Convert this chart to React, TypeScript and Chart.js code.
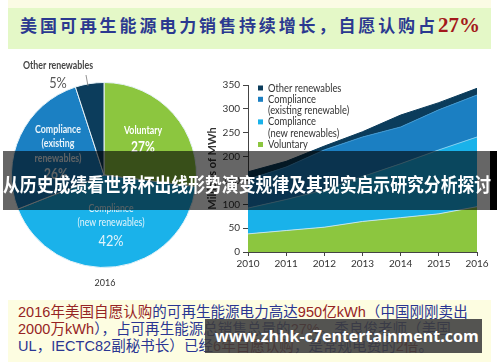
import React, { useEffect, useRef } from "react";
import { Chart, registerables } from "chart.js";
Chart.register(...registerables);

// ---- Pie data (share of 2016 renewable sales)
const pieCategories = ["Voluntary", "Compliance (new renewables)", "Compliance (existing renewables)", "Other renewables"];
const pieShares = [27, 42, 26, 5];
const pieColors = ["#8cc63f", "#1ab2ea", "#1b80c3", "#0c3d5c"];

// ---- Stacked area data (millions of MWh)
const years = ["2010", "2011", "2012", "2013", "2014", "2015", "2016"];
const voluntary = [38, 45, 52, 64, 72, 80, 95];
const complianceNew = [54, 65, 78, 94, 113, 134, 146];
const complianceExisting = [60, 68, 84, 83, 77, 84, 88];
const otherRenewables = [16, 12, 8, 11, 25, 15, 14];
const yMin = 0;
const yMax = 350;
const yStep = 50;
const seriesNames = ["Voluntary", "Compliance (new renewables)", "Compliance (existing renewable)", "Other renewables"];
const legendLines = [["Other renewables"], ["Compliance", "(existing renewable)"], ["Compliance", "(new renewables)"], ["Voluntary"]];
const areaColors = ["#8cc63f", "#19b2ea", "#1b7fc2", "#0b3c5b"];
const areaBorders = ["#bfe4f0", "#7fcdef", "#3f97d0", "#0b3c5b"];

const titleMain = "美国可再生能源电力销售持续增长，自愿认购占";
const titlePct = "27%";
const bannerText = "从历史成绩看世界杯出线形势演变规律及其现实启示研究分析探讨";
const watermark = "www.zhhk-c7entertainment.com";

const MAROON = "#962424";
const NAVY = "#2a3592";
const noteLines: [string, string][][] = [
  [[MAROON, "2016年美国自愿认购"], [NAVY, "的可再生能源电力高达"], [MAROON, "950亿kWh"], [NAVY, "（中国刚刚卖出"]],
  [[MAROON, "2000万kWh"], [NAVY, "），占可再生能源总销售总量的"], [MAROON, "27%"], [NAVY, "。季良俊老师（美国"]],
  [[NAVY, "UL，IECTC82副秘书长）已经"], [MAROON, "6年自愿认购"], [NAVY, "，是常规电费的"], [MAROON, "2倍"], [NAVY, "。"]],
];

function drawText(ctx: CanvasRenderingContext2D, s: string, x: number, y: number, font: string, color: string, sx = 1, align: CanvasTextAlign = "center") {
  ctx.save();
  ctx.font = font;
  ctx.fillStyle = color;
  ctx.textBaseline = "middle";
  ctx.textAlign = align;
  ctx.translate(x, y);
  ctx.scale(sx, 1);
  ctx.fillText(s, 0, 0);
  ctx.restore();
}

const PIE_LEFT = 0;
const PIE_TOP = 50;
const AREA_LEFT = 200;
const AREA_TOP = 60;

export default function App() {
  const pieRef = useRef<HTMLCanvasElement>(null);
  const areaRef = useRef<HTMLCanvasElement>(null);

  useEffect(() => {
    const pieLabelPlugin = {
      id: "pieLabels",
      afterDraw(chart: any) {
        const ctx = chart.ctx as CanvasRenderingContext2D;
        const p = (x: number, y: number) => [x - PIE_LEFT, y - PIE_TOP];
        const B = 'bold 11px Lato, "Noto Sans"';
        const R = '11px Lato, "Noto Sans"';
        const P = 'bold 15px Lato, "Noto Sans"';
        let [x, y] = p(58, 65);
        drawText(ctx, "Other renewables", x, y, B, "#454545", 0.8);
        [x, y] = p(58, 83);
        drawText(ctx, "5%", x, y, '15px Lato, "Noto Sans"', "#555", 0.85);
        ctx.save();
        ctx.strokeStyle = "#777";
        ctx.lineWidth = 0.8;
        ctx.beginPath();
        let [a, b] = p(86, 75);
        ctx.moveTo(a, b);
        [a, b] = p(88, 86);
        ctx.lineTo(a, b);
        ctx.stroke();
        ctx.restore();
        [x, y] = p(143, 130);
        drawText(ctx, "Voluntary", x, y, B, "#fff", 0.8);
        [x, y] = p(143, 147);
        drawText(ctx, "27%", x, y, P, "#fff", 0.8);
        [x, y] = p(58, 129);
        drawText(ctx, "Compliance", x, y, B, "#eaf4fb", 0.8);
        [x, y] = p(58, 143);
        drawText(ctx, "(existing", x, y, B, "#eaf4fb", 0.8);
        [x, y] = p(58, 158);
        drawText(ctx, "renewables)", x, y, B, "#eaf4fb", 0.8);
        [x, y] = p(56, 174);
        drawText(ctx, "26%", x, y, P, "#eaf4fb", 0.8);
        [x, y] = p(111, 208);
        drawText(ctx, "Compliance", x, y, R, "#e2f4fb", 0.8);
        [x, y] = p(111, 222);
        drawText(ctx, "(new renewables)", x, y, R, "#e2f4fb", 0.8);
        [x, y] = p(111, 241);
        drawText(ctx, "42%", x, y, '15px Lato, "Noto Sans"', "#e2f4fb", 0.85);
        [x, y] = p(105, 283);
        drawText(ctx, "2016", x, y, '9px Lato, "Noto Sans"', "#333", 1);
      },
    };

    const pie = new Chart(pieRef.current!, {
      type: "pie",
      data: {
        labels: pieCategories,
        datasets: [{ data: pieShares, backgroundColor: pieColors, borderColor: "#e6f2f8", borderWidth: 1 }],
      },
      options: {
        responsive: false,
        animation: false,
        layout: { padding: { left: 11, right: 13, top: 32, bottom: 22 } },
        plugins: { legend: { display: false }, tooltip: { enabled: false } },
      },
      plugins: [pieLabelPlugin],
    });

    const legendPlugin = {
      id: "areaLegend",
      afterDraw(chart: any) {
        const ctx = chart.ctx as CanvasRenderingContext2D;
        const x0 = 258 - AREA_LEFT;
        let y = 88 - AREA_TOP;
        const lh = 11.3;
        const order = [3, 2, 1, 0];
        order.forEach((di, i) => {
          const ds = chart.data.datasets[di];
          ctx.fillStyle = ds.backgroundColor;
          ctx.fillRect(x0, y - 2.5, 5, 5);
          legendLines[i].forEach((line) => {
            drawText(ctx, line, x0 + 10, y, '11px Lato, "Noto Sans"', "#333", 0.85, "left");
            y += lh;
          });
        });
      },
    };

    const series = [voluntary, complianceNew, complianceExisting, otherRenewables];
    const area = new Chart(areaRef.current!, {
      type: "line",
      data: {
        labels: years,
        datasets: series.map((d, i) => ({
          label: seriesNames[i],
          data: d,
          backgroundColor: areaColors[i],
          borderColor: areaBorders[i],
          borderWidth: 1,
          pointRadius: 0,
          tension: 0,
          fill: i === 0 ? "origin" : "-1",
        })),
      },
      options: {
        responsive: false,
        animation: false,
        layout: { padding: { left: 0, right: 23, top: 25, bottom: 0 } },
        plugins: { legend: { display: false }, tooltip: { enabled: false } },
        scales: {
          x: {
            offset: false,
            grid: { display: true, drawOnChartArea: false, drawTicks: true, tickLength: 4, color: "#444" },
            border: { display: true, color: "#444", width: 1 },
            ticks: { font: { family: "Lato", size: 10 }, color: "#333", padding: 2, maxRotation: 0, autoSkip: false },
            afterFit(s: any) { s.height = 33; },
          },
          y: {
            stacked: true,
            min: yMin,
            max: yMax,
            grid: { display: true, drawOnChartArea: false, drawTicks: true, tickLength: 5, color: "#444" },
            border: { display: true, color: "#444", width: 1 },
            ticks: { stepSize: yStep, font: { family: "Lato", size: 10 }, color: "#333", padding: 3 },
            title: { display: true, text: "Millions of MWh", font: { family: "Lato", size: 11, weight: "bold" }, color: "#333", padding: { top: 6, bottom: 0 } },
            afterFit(s: any) { s.width = 48; },
          },
        },
      },
      plugins: [legendPlugin],
    });

    return () => {
      pie.destroy();
      area.destroy();
    };
  }, []);

  const cjk = '"Noto Sans CJK SC", sans-serif';
  return (
    <div style={{ position: "fixed", left: 0, top: 0, width: 500, height: 362, background: "#fff", overflow: "hidden" }}>
      <div style={{ position: "absolute", left: 8, top: 0, width: 483, height: 8, background: "#fbfbe4" }} />
      <div style={{ position: "absolute", left: 8, top: 8, width: 483, height: 41, background: "#e4f8c7" }} />
      <div style={{ position: "absolute", left: 20, top: 13, height: 24, lineHeight: "24px", whiteSpace: "nowrap", fontFamily: cjk, fontWeight: 700, fontSize: 17, letterSpacing: 2.9, color: "#2b3990" }}>
        {titleMain}
        <span style={{ fontFamily: '"Liberation Serif", serif', fontSize: 21, color: "#a3181c", letterSpacing: 0 }}>{titlePct}</span>
      </div>

      <canvas ref={pieRef} width={210} height={240} style={{ position: "absolute", left: PIE_LEFT, top: PIE_TOP, width: 210, height: 240 }} />
      <canvas ref={areaRef} width={300} height={225} style={{ position: "absolute", left: AREA_LEFT, top: AREA_TOP, width: 300, height: 225 }} />

      <div style={{ position: "absolute", left: 8, top: 300, width: 483, height: 62, background: "#fdfde1" }}>
        {noteLines.map((line, i) => (
          <div key={i} style={{ position: "absolute", left: 10, top: 3.5 + i * 17, height: 17, lineHeight: "17px", whiteSpace: "nowrap", fontSize: 14.5, letterSpacing: 0.05, fontFamily: '"Liberation Sans", "Noto Sans CJK SC", sans-serif' }}>
            {line.map(([c, t], j) => (
              <span key={j} style={{ color: c }}>{t}</span>
            ))}
          </div>
        ))}
      </div>

      <div style={{ position: "absolute", left: 3, top: 151, width: 494, height: 59, background: "rgba(0,0,0,0.6)" }} />
      <div style={{ position: "absolute", left: 490, top: 151, width: 7, height: 59, background: "#000" }} />
      <div style={{ position: "absolute", left: 3, top: 171, height: 26, lineHeight: "26px", whiteSpace: "nowrap", fontFamily: cjk, fontWeight: 700, fontSize: 19, color: "#fff", transform: "scaleX(0.886)", transformOrigin: "left center" }}>
        {bannerText}
      </div>

      <div style={{ position: "absolute", left: 205, top: 319, width: 277, height: 34, background: "rgba(60,60,60,0.88)" }} />
      <div style={{ position: "absolute", left: 215, top: 323, height: 26, lineHeight: "26px", whiteSpace: "nowrap", fontFamily: '"Open Sans", sans-serif', fontWeight: 700, fontSize: 16, color: "#fff" }}>
        {watermark}
      </div>
    </div>
  );
}
